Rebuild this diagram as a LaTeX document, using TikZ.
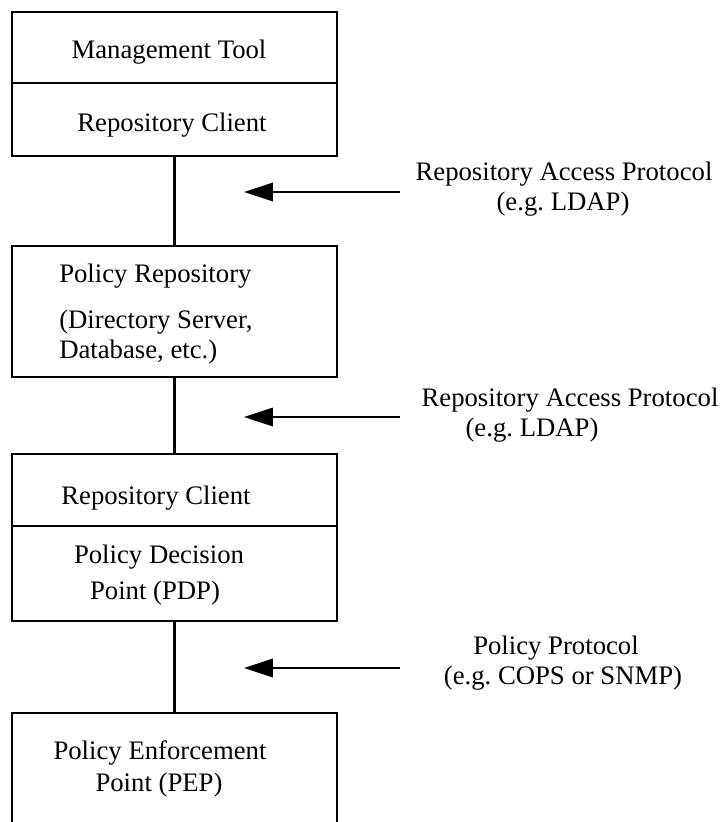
\documentclass[tikz,border=0pt]{standalone}
\usepackage{fontspec}
\setmainfont{Liberation Serif}
\usetikzlibrary{positioning}
\usetikzlibrary{arrows.meta}
\frenchspacing

\begin{document}
\begin{tikzpicture}[x=0.025cm, y=-0.025cm,
  font=\fontsize{19pt}{22pt}\selectfont,
  layer/.style={draw, line width=1.7pt, minimum width=8.125cm, inner sep=0pt},
  txt/.style={inner sep=0pt, anchor=base},
  ltxt/.style={inner sep=0pt, anchor=base west},
  link/.style={line width=1.5pt},
  proto/.style={line width=1.3pt, -{Triangle[length=0.72cm, width=0.46cm]}}]

\useasboundingbox (0,0) rectangle (722,822);

% boxes
{
\node[layer, minimum height=1.775cm] (mgmt) at (174.5,47.5) {};
\node[layer, minimum height=1.825cm] (client) at (174.5,119.5) {};
\node[layer, minimum height=3.275cm] (repo) at (174.5,311.5) {};
\node[layer, minimum height=1.8cm] (pdpclient) at (174.5,490) {};
\node[layer, minimum height=2.375cm] (pdp) at (174.5,573.5) {};
\node[layer, minimum height=2.825cm] (pep) at (174.5,769.5) {};
}

% links
\draw[link] (client) -- (repo);
\draw[link] (repo) -- (pdpclient);
\draw[link] (pdp) -- (pep);

% protocol arrows
\coordinate (rap1) at (400,192);
\coordinate (rap1tip) at (244,192);
\coordinate (rap2) at (400,417);
\coordinate (rap2tip) at (244,417);
\coordinate (pp) at (400,668);
\coordinate (pptip) at (244,668);
\draw[proto] (rap1) -- (rap1tip);
\draw[proto] (rap2) -- (rap2tip);
\draw[proto] (pp) -- (pptip);

% box texts
{
\node[txt] (mgmt-t) at (169,58) {Management Tool};
\node[txt] (client-t) at (172,131) {Repository Client};

\node[ltxt] (repo-t1) at (59,282) {Policy Repository};
\node[ltxt] (repo-t2) at (59,328) {(Directory Server,};
\node[ltxt] (repo-t3) at (59,358) {Database, etc.)};

\node[txt] (pdpclient-t) at (156,504) {Repository Client};
\node[txt] (pdp-t1) at (159,563) {Policy Decision};
\node[txt] (pdp-t2) at (155,599) {Point (PDP)};

\node[txt] (pep-t1) at (160,759) {Policy Enforcement};
\node[txt] (pep-t2) at (159,791) {Point (PEP)};
}

% protocol labels
{
\node[txt] (rap1-t1) at (564,180) {Repository Access Protocol};
\node[txt] (rap1-t2) at (563,210) {(e.g. LDAP)};

\node[txt] (rap2-t1) at (570,406) {Repository Access Protocol};
\node[txt] (rap2-t2) at (532,436) {(e.g. LDAP)};

\node[txt] (pp-t1) at (556,654) {Policy Protocol};
\node[txt] (pp-t2) at (563,684) {(e.g. COPS or SNMP)};
}

\end{tikzpicture}
\end{document}
